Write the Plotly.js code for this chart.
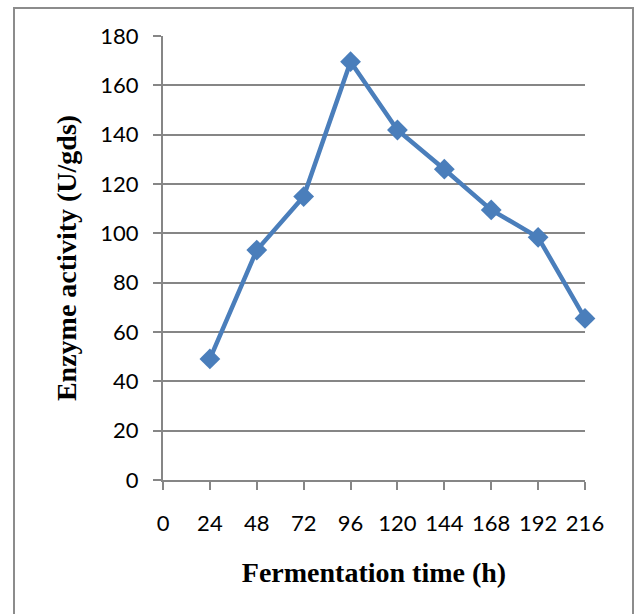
<!DOCTYPE html>
<html>
<head>
<meta charset="utf-8">
<script src="https://cdn.plot.ly/plotly-3.0.1.min.js"></script>
<style>html,body{margin:0;padding:0;background:#fff;}#chart{width:638px;height:614px;}</style>
</head>
<body>
<div id="chart"></div>
<script>
const timeHours = [24, 48, 72, 96, 120, 144, 168, 192, 216];
const enzymeActivity = [49.1, 93.2, 114.9, 169.6, 141.9, 126, 109.5, 98.4, 65.5];
const xTickVals = [0, 24, 48, 72, 96, 120, 144, 168, 192, 216];
const xTitle = 'Fermentation time (h)';
const yTitle = 'Enzyme activity (U/gds)';

const W = 638, H = 614;
const L = 163, R = 53, T = 36, B = 134;
const pw = W - L - R, ph = H - T - B;
function px2x(p){ return (p - L) / pw; }
function py2y(p){ return (H - B - p) / ph; }

const trace = {
  x: timeHours, y: enzymeActivity, type: 'scatter', mode: 'lines+markers',
  line: {color: '#4a7ebb', width: 4.5},
  marker: {symbol: 'diamond', size: 16, color: '#4a7ebb'},
  cliponaxis: false, showlegend: false
};

const tickFont = {family: 'Lato, "Open Sans", sans-serif', size: 22, color: '#000'};
const titleFont = {family: '"Liberation Serif", "Times New Roman", serif', size: 28, color: '#000', weight: 'bold'};

const layout = {
  width: W, height: H,
  margin: {l: L, r: R, t: T, b: B},
  paper_bgcolor: '#fff', plot_bgcolor: '#fff',
  xaxis: {
    range: [0, 216], tickvals: xTickVals, ticktext: xTickVals.map(String),
    showgrid: false, zeroline: false,
    showline: true, linecolor: '#868686', linewidth: 2,
    ticks: 'outside', ticklen: 8, tickwidth: 2, tickcolor: '#868686',
    tickfont: tickFont, ticklabelstandoff: 15,
    title: {text: xTitle, font: titleFont, standoff: 27},
    automargin: false
  },
  yaxis: {
    range: [0, 180], dtick: 20, tick0: 0,
    showgrid: true, gridcolor: '#868686', gridwidth: 2, zeroline: false,
    showline: true, linecolor: '#868686', linewidth: 2,
    ticks: 'outside', ticklen: 8, tickwidth: 2, tickcolor: '#868686',
    tickfont: tickFont, ticklabelstandoff: 10,
    title: {text: yTitle, font: titleFont, standoff: 16},
    automargin: false
  },
  shapes: [{
    type: 'rect', xref: 'paper', yref: 'paper',
    x0: px2x(14), x1: px2x(633), y0: py2y(625), y1: py2y(8),
    line: {color: '#8c8c8c', width: 2}, fillcolor: 'rgba(0,0,0,0)', layer: 'below'
  }]
};

Plotly.newPlot('chart', [trace], layout, {staticPlot: true, displayModeBar: false});
</script>
</body>
</html>
